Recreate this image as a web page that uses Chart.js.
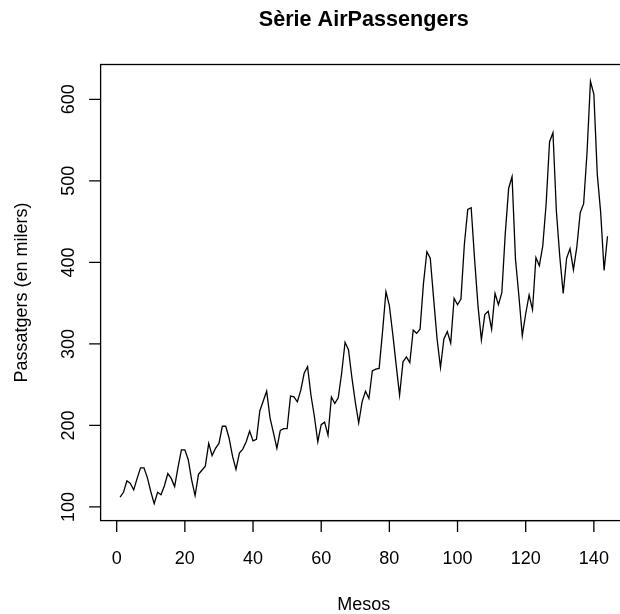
<!DOCTYPE html>
<html>
<head>
<meta charset="utf-8">
<script src="https://cdn.jsdelivr.net/npm/chart.js@4/dist/chart.umd.min.js"></script>
<style>
  html, body { margin: 0; padding: 0; background: #fff; overflow: hidden; width: 620px; height: 614px; }
  canvas { display: block; }
</style>
</head>
<body>
<canvas id="myChart" width="640" height="614"></canvas>
<script>
// passatgers mensuals (milers), gener 1949 - desembre 1960
const passatgers = [
    112, 118, 132, 129, 121, 135, 148, 148, 136, 119, 104, 118,
    115, 126, 141, 135, 125, 149, 170, 170, 158, 133, 114, 140,
    145, 150, 178, 163, 172, 178, 199, 199, 184, 162, 146, 166,
    171, 180, 193, 181, 183, 218, 230, 242, 209, 191, 172, 194,
    196, 196, 236, 235, 229, 243, 264, 272, 237, 211, 180, 201,
    204, 188, 235, 227, 234, 264, 302, 293, 259, 229, 203, 229,
    242, 233, 267, 269, 270, 315, 364, 347, 312, 274, 237, 278,
    284, 277, 317, 313, 318, 374, 413, 405, 355, 306, 271, 306,
    315, 301, 356, 348, 355, 422, 465, 467, 404, 347, 305, 336,
    340, 318, 362, 348, 363, 435, 491, 505, 404, 359, 310, 337,
    360, 342, 406, 396, 420, 472, 548, 559, 463, 407, 362, 405,
    417, 391, 419, 461, 472, 535, 622, 606, 508, 461, 390, 432
];
const mesos = passatgers.map((v, i) => i + 1);

const xTicks = [0, 20, 40, 60, 80, 100, 120, 140];
const yTicks = [100, 200, 300, 400, 500, 600];

const titol = 'Sèrie AirPassengers';
const titolX = 'Mesos';
const titolY = 'Passatgers (en milers)';

const FONT = '"Liberation Sans", Arial, Helvetica, sans-serif';

// eixos i textos a l'estil de plot() de R
const eixosR = {
    id: 'eixosR',
    afterDraw(chart) {
        const ctx = chart.ctx;
        const area = chart.chartArea;
        const sx = chart.scales.x;
        const sy = chart.scales.y;
        ctx.save();
        ctx.strokeStyle = '#000';
        ctx.fillStyle = '#000';
        ctx.lineWidth = 1.3;
        ctx.strokeRect(area.left, area.top, area.right - area.left, area.bottom - area.top);

        ctx.font = '18px ' + FONT;
        ctx.textAlign = 'center';
        ctx.textBaseline = 'alphabetic';
        ctx.beginPath();
        xTicks.forEach(t => {
            const px = sx.getPixelForValue(t);
            ctx.moveTo(px, area.bottom);
            ctx.lineTo(px, area.bottom + 11.5);
        });
        ctx.moveTo(sx.getPixelForValue(xTicks[0]), area.bottom);
        ctx.lineTo(sx.getPixelForValue(xTicks[xTicks.length - 1]), area.bottom);
        yTicks.forEach(t => {
            const py = sy.getPixelForValue(t);
            ctx.moveTo(area.left, py);
            ctx.lineTo(area.left - 11.5, py);
        });
        ctx.stroke();

        xTicks.forEach(t => {
            ctx.fillText(String(t), sx.getPixelForValue(t), 563.5);
        });
        yTicks.forEach(t => {
            ctx.save();
            ctx.translate(73.5, sy.getPixelForValue(t));
            ctx.rotate(-Math.PI / 2);
            ctx.fillText(String(t), 0, 0);
            ctx.restore();
        });

        const cx = (area.left + area.right) / 2;
        const cy = (area.top + area.bottom) / 2;
        ctx.fillText(titolX, cx, 609.5);
        ctx.save();
        ctx.translate(27, cy);
        ctx.rotate(-Math.PI / 2);
        ctx.fillText(titolY, 0, 0);
        ctx.restore();

        ctx.font = 'bold 21.6px ' + FONT;
        ctx.fillText(titol, cx, 25.5);
        ctx.restore();
    }
};

const data = {
    datasets: [{
        label: titolY,
        data: mesos.map((m, i) => ({ x: m, y: passatgers[i] })),
        borderColor: '#000',
        borderWidth: 1.3,
        pointRadius: 0,
        fill: false,
        tension: 0
    }]
};

const config = {
    type: 'line',
    data: data,
    options: {
        responsive: false,
        animation: false,
        events: [],
        layout: {
            padding: { left: 100.6, right: 13, top: 64.5, bottom: 93.4 }
        },
        plugins: {
            legend: { display: false },
            tooltip: { enabled: false }
        },
        scales: {
            x: { type: 'linear', min: -4.72, max: 149.72, display: false },
            y: { type: 'linear', min: 83.28, max: 642.72, display: false }
        }
    },
    plugins: [eixosR]
};

let myChart = new Chart(document.getElementById('myChart'), config);
</script>
</body>
</html>
